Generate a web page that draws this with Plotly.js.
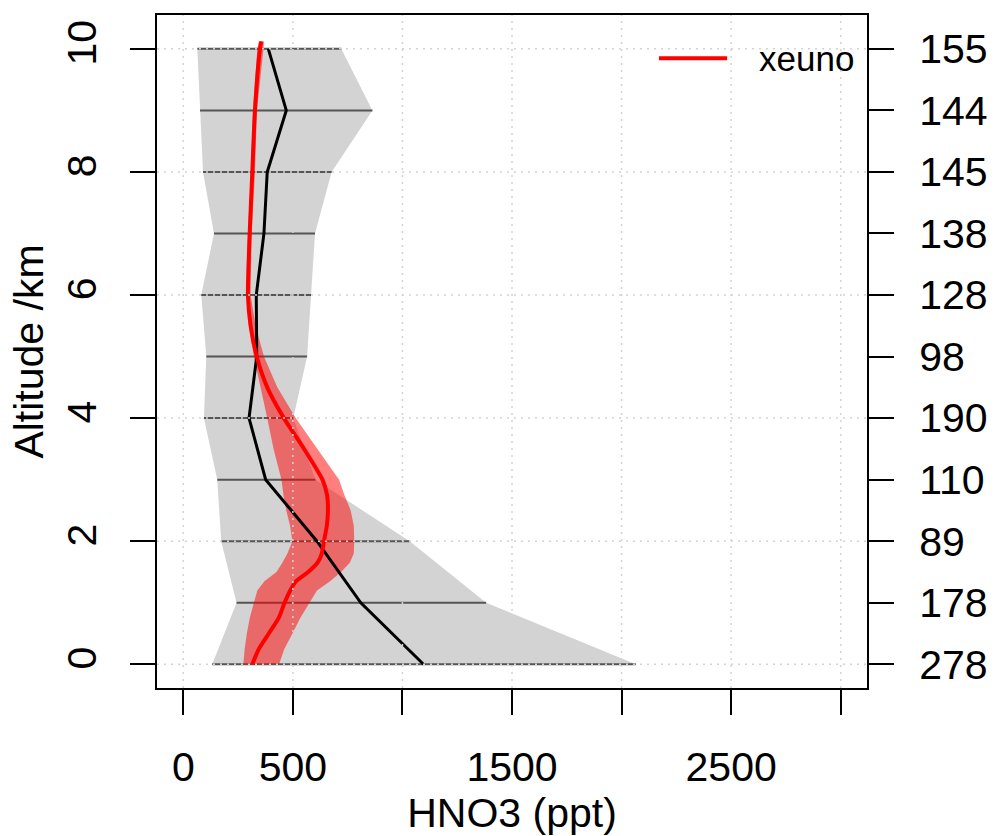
<!DOCTYPE html>
<html>
<head>
<meta charset="utf-8">
<script src="https://cdn.plot.ly/plotly-3.0.1.min.js"></script>
<style>html,body{margin:0;padding:0;background:#fff;}#chart{width:997px;height:836px;}</style>
</head>
<body>
<div id="chart"></div>
<script>
// Observations at each altitude level (km)
const levels   = [0, 1, 2, 3, 4, 5, 6, 7, 8, 9, 10];
const obsLow   = [132, 243, 173, 155, 94, 105, 82, 140, 90, 76, 64];
const obsHigh  = [2065, 1382, 1033, 603, 502, 565, 583, 601, 677, 863, 721];
const obsMean  = [1096, 810, 610, 376, 300, 335, 333, 368, 383, 470, 388];
const obsCount = [278, 178, 89, 110, 190, 98, 128, 138, 145, 144, 155];

// Model (xeuno) profile
const modelAlt   = [0, 0.25, 0.5, 0.75, 1.0, 1.2, 1.35, 1.5, 1.65, 1.8, 2.0, 2.25, 2.5, 2.75, 3.0, 3.5, 4.0, 4.5, 5.0, 5.5, 6.0, 6.5, 7, 8, 9, 10, 10.12];
const modelMean  = [315, 345, 390, 435, 462, 488, 515, 570, 612, 632, 642, 655, 660, 656, 635, 551, 459, 383, 335, 307, 295, 298, 303, 315, 327, 350, 356];
const modelLow   = [274, 280, 290, 303, 322, 338, 370, 425, 452, 475, 498, 487, 470, 457, 448, 412, 383, 353, 322, 300, 287, 290, 295, 309, 318, 338, 345];
const modelHigh  = [437, 461, 498, 533, 575, 610, 670, 720, 760, 778, 780, 778, 764, 735, 711, 612, 513, 429, 368, 330, 307, 308, 312, 327, 336, 366, 368];

const xTicks = [0, 500, 1000, 1500, 2000, 2500, 3000];
const xTickText = ["0", "500", "", "1500", "", "2500", ""];
const yTicks = [0, 2, 4, 6, 8, 10];

const FONT = "Liberation Sans, Arial, Helvetica, sans-serif";
const FS = 41;

// Build traces
const obsBand = {
  x: obsLow.concat(obsHigh.slice().reverse()),
  y: levels.concat(levels.slice().reverse()),
  type: "scatter", mode: "lines", fill: "toself",
  fillcolor: "#D3D3D3", line: {width: 0, color: "rgba(0,0,0,0)"},
  hoverinfo: "skip", showlegend: false
};
const segX = [], segY = [];
levels.forEach((lv, i) => { segX.push(obsLow[i], obsHigh[i], null); segY.push(lv, lv, null); });
const obsSegs = {
  x: segX, y: segY, type: "scatter", mode: "lines",
  line: {color: "#555555", width: 2}, showlegend: false, hoverinfo: "skip"
};
const modelBand = {
  x: modelLow.concat(modelHigh.slice().reverse()),
  y: modelAlt.concat(modelAlt.slice().reverse()),
  type: "scatter", mode: "lines", fill: "toself",
  fillcolor: "rgba(255,0,0,0.5)", line: {width: 0, color: "rgba(0,0,0,0)"},
  hoverinfo: "skip", showlegend: false
};
const obsLine = {
  x: obsMean, y: levels, type: "scatter", mode: "lines",
  line: {color: "#000000", width: 3}, showlegend: false
};
const modelLine = {
  x: modelMean, y: modelAlt, type: "scatter", mode: "lines", name: "xeuno",
  line: {color: "#FF0000", width: 4, shape: "spline", smoothing: 0.6}, showlegend: false
};
const countAxis = {
  x: [null], y: [null], yaxis: "y2", type: "scatter", mode: "lines",
  showlegend: false, hoverinfo: "skip"
};

// grid drawn on top (as in the reference)
const shapes = [];
xTicks.forEach(v => shapes.push({type: "line", layer: "above", xref: "x", yref: "paper", x0: v, x1: v, y0: 0, y1: 1,
  line: {color: "#D3D3D3", width: 1.5, dash: "2px,5px"}}));
yTicks.forEach(v => shapes.push({type: "line", layer: "above", xref: "paper", yref: "y", x0: 0, x1: 1, y0: v, y1: v,
  line: {color: "#D3D3D3", width: 1.5, dash: "2px,5px"}}));
// legend sample line
shapes.push({type: "line", layer: "above", xref: "paper", yref: "paper", x0: 0.707, x1: 0.803, y0: 0.9357, y1: 0.9357,
  line: {color: "#FF0000", width: 4}});

const yRange = [-0.385, 10.55];
const layout = {
  width: 997, height: 836,
  margin: {l: 157, r: 130, t: 15, b: 148, pad: 0},
  paper_bgcolor: "#ffffff", plot_bgcolor: "#ffffff",
  font: {family: FONT, size: FS, color: "#000"},
  showlegend: false,
  xaxis: {
    range: [-120, 3120], tickmode: "array", tickvals: xTicks, ticktext: xTickText,
    ticks: "outside", ticklen: 25, tickwidth: 2, tickcolor: "#000",
    showline: true, linecolor: "#000", linewidth: 2, mirror: true,
    showgrid: false, zeroline: false, ticklabelstandoff: 17,
    tickfont: {family: FONT, size: FS},
    title: {text: "HNO3 (ppt)", font: {family: FONT, size: FS}, standoff: 7}
  },
  yaxis: {
    range: yRange, tickmode: "array", tickvals: yTicks, tickangle: -90,
    ticks: "outside", ticklen: 25, tickwidth: 2, tickcolor: "#000",
    showline: true, linecolor: "#000", linewidth: 2, mirror: true,
    showgrid: false, zeroline: false, ticklabelstandoff: 18,
    tickfont: {family: FONT, size: FS},
    title: {text: "Altitude /km", font: {family: FONT, size: FS}, standoff: 2}
  },
  yaxis2: {
    overlaying: "y", side: "right", range: yRange,
    tickmode: "array", tickvals: levels, ticktext: obsCount.map(String),
    ticks: "outside", ticklen: 26, tickwidth: 2, tickcolor: "#000",
    showline: false, showgrid: false, zeroline: false, ticklabelstandoff: 17,
    tickfont: {family: FONT, size: FS}
  },
  shapes: shapes,
  annotations: [{
    xref: "paper", yref: "paper", x: 0.845, y: 0.935, xanchor: "left", yanchor: "middle",
    text: "xeuno", showarrow: false, font: {family: FONT, size: 35, color: "#000"}
  }]
};

Plotly.newPlot("chart", [obsBand, obsSegs, modelBand, obsLine, modelLine, countAxis], layout, {staticPlot: true});
</script>
</body>
</html>
